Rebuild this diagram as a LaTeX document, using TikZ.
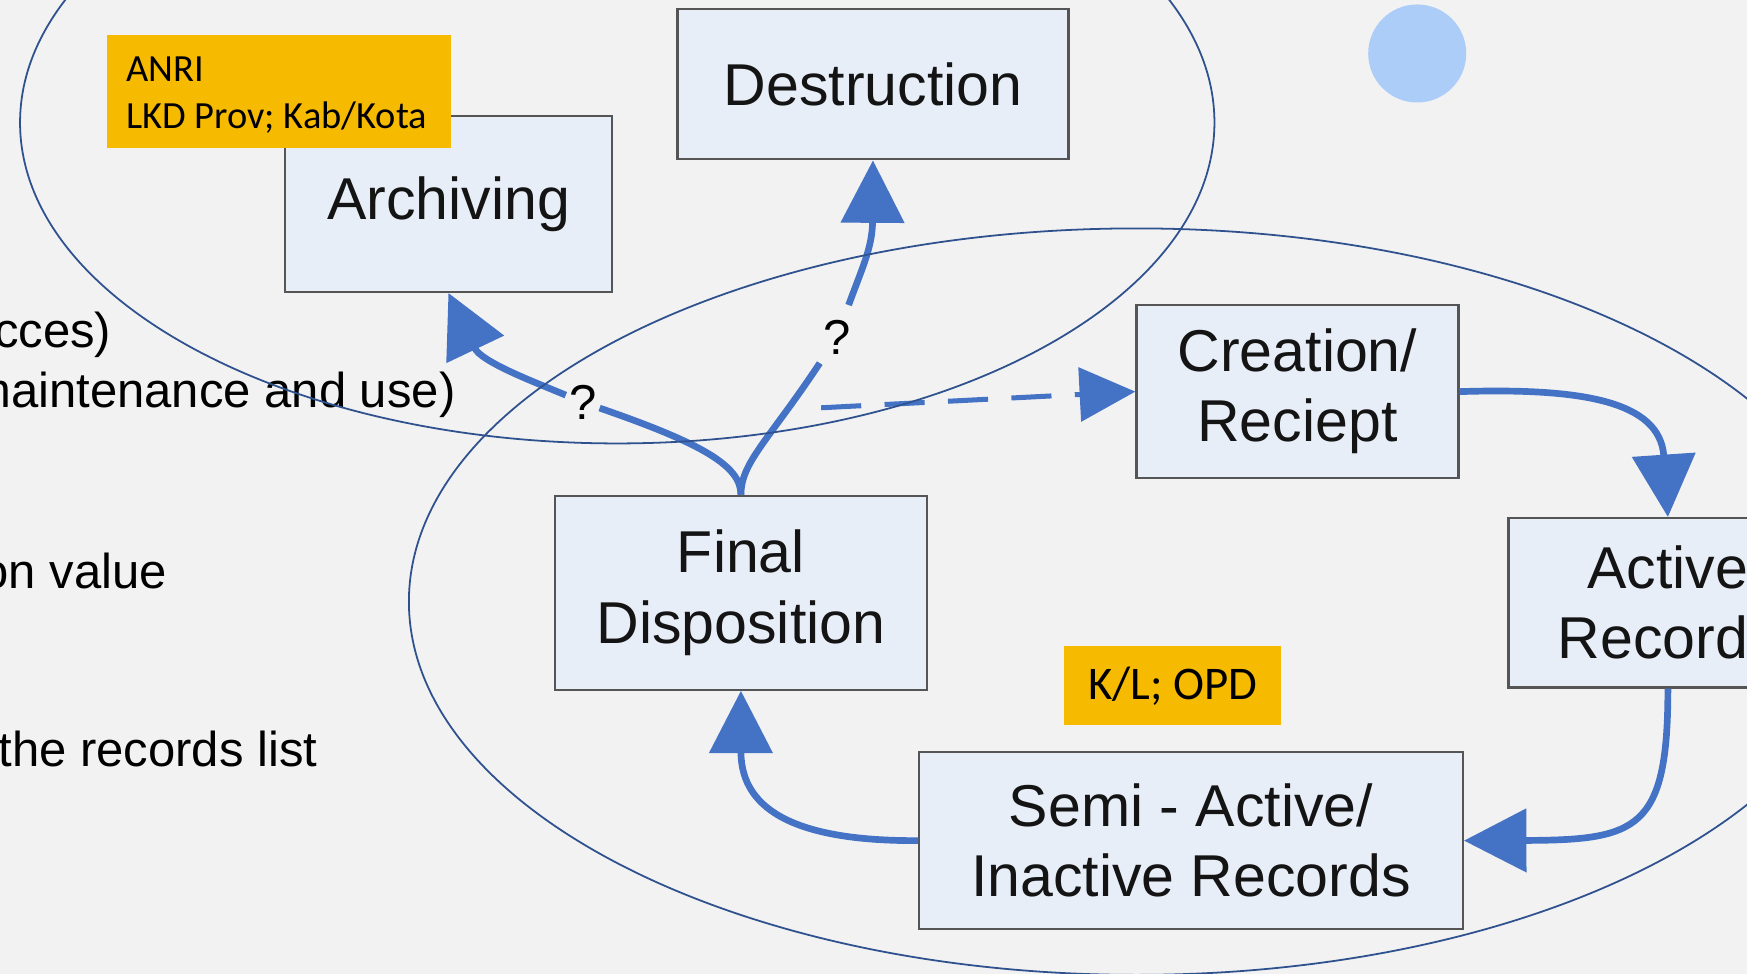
\documentclass[tikz,border=0pt]{standalone}
\usepackage{fontspec}
\setmainfont{Liberation Sans}
\newfontfamily\labelfont{Carlito}
\usetikzlibrary{arrows.meta}
\definecolor{pagebg}{RGB}{242,242,242}
\definecolor{flowblue}{RGB}{68,114,196}
\definecolor{ringblue}{RGB}{47,82,143}
\definecolor{boxfill}{RGB}{232,238,248}
\definecolor{boxline}{RGB}{85,85,85}
\definecolor{tagyellow}{RGB}{246,186,0}
\definecolor{dotblue}{RGB}{173,205,249}
\begin{document}
\begin{tikzpicture}[x=1pt,y=-1pt,
  stage/.style={draw=boxline, line width=2pt, fill=boxfill, inner sep=0pt,
    align=center, text=black!92, font=\fontsize{53}{63}\selectfont},
  tag/.style={fill=tagyellow, inner sep=0pt},
  tagtext/.style={font=\labelfont\fontsize{34.5}{42}\selectfont, inner sep=0pt, text=black},
  side/.style={font=\fontsize{44}{54}\selectfont, inner sep=0pt, text=black},
  qmark/.style={font=\fontsize{44}{50}\selectfont, inner sep=0pt,
    minimum width=30pt, minimum height=44pt},
  flow/.style={draw=flowblue, line width=6pt, -{Triangle[length=56pt,width=56pt]}},
  flowline/.style={draw=flowblue, line width=6pt},
  dashflow/.style={draw=flowblue, line width=4.5pt, dash pattern=on 36pt off 21pt,
    -{Triangle[length=50pt,width=48pt]}},
  ring/.style={draw=ringblue, line width=1.6pt},
]
\useasboundingbox (0,0) rectangle (1568,874);
\clip (0,0) rectangle (1568,874);
\fill[pagebg] (0,0) rectangle (1568,874);

% text running in from the left margin
\node[side, anchor=base east] (t1) at (100,312) {cces)};
\node[side, anchor=base east] (t2) at (409,366) {maintenance and use)};
\node[side, anchor=base east] (t3) at (150,528) {on value};
\node[side, anchor=base east] (t4) at (285,688) {the records list};

% life-cycle stages
\node[stage, minimum width=351pt, minimum height=135pt] (destr) at (783.5,75.5) {Destruction};
\node[stage, minimum width=293pt, minimum height=158pt] (arch) at (402.5,183) {Archiving};
\node[stage, minimum width=289pt, minimum height=155pt] (creat) at (1164.5,351.5) {Creation/\\Reciept};
\node[stage, minimum width=334pt, minimum height=174pt] (fin) at (665,532) {Final\\Disposition};
\node[stage, minimum width=286pt, minimum height=152pt] (act) at (1497,541) {Active\\Records};
\node[stage, minimum width=488pt, minimum height=159pt] (semi) at (1069,754.5) {Semi - Active/\\Inactive Records};

% question marks on the two open branches
\node[qmark] (qa) at (523,361) {?};
\node[qmark, minimum height=58pt] (qd) at (751,303) {?};
\coordinate (dstart) at (737,366);

% the cycle
\draw[flow] (creat.east) .. controls (1420,348) and (1490,360) .. (act.north);
\draw[flow] (act.south) .. controls (1497,745) and (1470,754) .. (semi.east);
\draw[flow] (semi.west) .. controls (720,755) and (665,730) .. (fin.south);

% branches out of final disposition
\draw[flowline] (fin.north) .. controls (665,418) and (630,398) .. (qa);
\draw[flow] (qa) .. controls (480,343) and (432,325) .. (arch.south);
\draw[flowline] (fin.north) .. controls (665,415) and (690,395) .. (qd);
\draw[flow] (qd) .. controls (774,240) and (783,222) .. (destr.south);
\draw[dashflow] (dstart) -- (creat.west);

% responsibility tags
\node[tag, anchor=north west, minimum width=309pt, minimum height=102pt] (anri) at (96,31) {};
\node[tagtext, anchor=base west] (anri1) at (113,73) {ANRI};
\node[tagtext, anchor=base west] (anri2) at (113,115) {LKD Prov; Kab/Kota};
\node[tag, minimum width=195pt, minimum height=71pt,
  font=\labelfont\fontsize{42}{50}\selectfont] (kl) at (1052.5,615.5) {K/L; OPD};

% decorative dot
\fill[dotblue] (1272,48) circle[radius=44];

% grouping ellipses
\draw[ring] (554,110) ellipse[x radius=536, y radius=288];
\draw[ring] (1020,540) ellipse[x radius=653, y radius=335];
\end{tikzpicture}
\end{document}
